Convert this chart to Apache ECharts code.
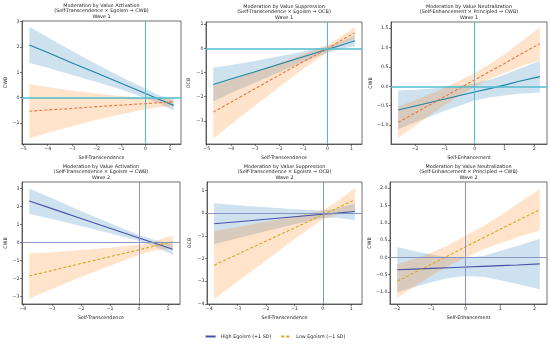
<!DOCTYPE html>
<html><head><meta charset="utf-8">
<script src="https://cdn.jsdelivr.net/npm/echarts@6/dist/echarts.min.js"></script>
<style>html,body{margin:0;padding:0;background:#fff}#c{width:550px;height:344px}</style>
</head><body><div id="c"></div>
<script>
// ---------- text ----------
const seriesNames = ['High Egoism (+1 SD)', 'Low Egoism (\u22121 SD)'];
const panelTitles = ['Moderation by Value Activation', 'Moderation by Value Suppression', 'Moderation by Value Neutralization',
                     'Moderation by Value Activation', 'Moderation by Value Suppression', 'Moderation by Value Neutralization'];
const panelSubtitles = ['(Self-Transcendence \u00d7 Egoism \u2192 CWB)', '(Self-Transcendence \u00d7 Egoism \u2192 OCB)', '(Self-Enhancement \u00d7 Principled \u2192 CWB)',
                        '(Self-Transcendence \u00d7 Egoism \u2192 CWB)', '(Self-Transcendence \u00d7 Egoism \u2192 OCB)', '(Self-Enhancement \u00d7 Principled \u2192 CWB)'];
const waveLabels = ['Wave 1', 'Wave 1', 'Wave 1', 'Wave 2', 'Wave 2', 'Wave 2'];
const xNames = ['Self-Transcendence', 'Self-Transcendence', 'Self-Enhancement', 'Self-Transcendence', 'Self-Transcendence', 'Self-Enhancement'];
const yNames = ['CWB', 'OCB', 'CWB', 'CWB', 'OCB', 'CWB'];

// ---------- tick labels ----------
const xTicks = [[-5,-4,-3,-2,-1,0,1], [-5,-4,-3,-2,-1,0,1], [-2,-1,0,1,2],
                [-4,-3,-2,-1,0,1], [-4,-3,-2,-1,0,1], [-2,-1,0,1,2]];
const yTicks = [[-1,0,1,2,3], [-3,-2,-1,0,1], [-1.5,-1.0,-0.5,0.0,0.5,1.0,1.5],
                [-3,-2,-1,0,1,2,3], [-4,-3,-2,-1,0,1], [-1.0,-0.5,0.0,0.5,1.0,1.5,2.0]];
const yDecimals = [0, 0, 1, 0, 0, 1];

// ---------- Wave 1, Activation ----------
const w1ActX         = [-4.75, -4, -3, -2, -1, 0, 0.5, 1.15];
const w1ActHighMean  = [2.08, 1.78, 1.37, 0.97, 0.57, 0.165, -0.04, -0.30];
const w1ActHighLower = [1.37, 1.18, 0.90, 0.62, 0.32, -0.02, -0.20, -0.50];
const w1ActHighUpper = [2.79, 2.38, 1.84, 1.32, 0.82, 0.35, 0.12, -0.10];
const w1ActLowMean   = [-0.53, -0.48, -0.42, -0.35, -0.29, -0.23, -0.20, -0.16];
const w1ActLowLower  = [-1.60, -1.38, -1.12, -0.87, -0.65, -0.45, -0.37, -0.33];
const w1ActLowUpper  = [0.54, 0.42, 0.28, 0.17, 0.07, -0.01, -0.03, 0.01];

// ---------- Wave 1, Suppression ----------
const w1SupX         = [-4.73, -4, -3, -2, -1, 0, 0.5, 1.13];
const w1SupHighMean  = [-1.50, -1.27, -0.97, -0.66, -0.35, -0.04, 0.11, 0.31];
const w1SupHighLower = [-2.20, -1.85, -1.42, -0.99, -0.57, -0.18, -0.03, 0.09];
const w1SupHighUpper = [-0.80, -0.69, -0.52, -0.33, -0.13, 0.10, 0.25, 0.53];
const w1SupLowMean   = [-2.64, -2.23, -1.67, -1.11, -0.55, -0.02, 0.29, 0.64];
const w1SupLowLower  = [-3.74, -3.15, -2.37, -1.61, -0.85, -0.17, 0.13, 0.40];
const w1SupLowUpper  = [-1.54, -1.31, -0.97, -0.61, -0.25, 0.14, 0.45, 0.88];

// ---------- Wave 1, Neutralization ----------
const w1NeuX         = [-2.57, -2, -1, 0, 0.5, 1, 1.5, 2.19];
const w1NeuHighMean  = [-0.61, -0.51, -0.33, -0.146, -0.06, 0.03, 0.13, 0.25];
const w1NeuHighLower = [-1.11, -0.93, -0.63, -0.37, -0.29, -0.24, -0.19, -0.16];
const w1NeuHighUpper = [-0.11, -0.09, -0.03, 0.07, 0.17, 0.30, 0.45, 0.66];
const w1NeuLowMean   = [-0.93, -0.69, -0.26, 0.165, 0.38, 0.59, 0.81, 1.10];
const w1NeuLowLower  = [-1.33, -1.02, -0.48, -0.01, 0.19, 0.35, 0.50, 0.68];
const w1NeuLowUpper  = [-0.53, -0.36, -0.04, 0.34, 0.57, 0.83, 1.12, 1.52];

// ---------- Wave 2, Activation ----------
const w2ActX         = [-3.78, -3, -2, -1, 0, 0.5, 1.16];
const w2ActHighMean  = [2.31, 1.89, 1.34, 0.80, 0.26, -0.01, -0.37];
const w2ActHighLower = [1.61, 1.32, 0.92, 0.52, 0.09, -0.18, -0.67];
const w2ActHighUpper = [3.01, 2.46, 1.76, 1.08, 0.43, 0.16, -0.07];
const w2ActLowMean   = [-1.85, -1.55, -1.16, -0.78, -0.40, -0.20, 0.05];
const w2ActLowLower  = [-3.10, -2.57, -1.91, -1.28, -0.68, -0.45, -0.31];
const w2ActLowUpper  = [-0.60, -0.53, -0.41, -0.28, -0.12, 0.05, 0.41];

// ---------- Wave 2, Suppression ----------
const w2SupX         = [-3.83, -3, -2, -1, 0, 0.5, 1.13];
const w2SupHighMean  = [-0.47, -0.38, -0.27, -0.16, -0.05, 0.00, 0.07];
const w2SupHighLower = [-1.37, -1.11, -0.80, -0.49, -0.22, -0.20, -0.30];
const w2SupHighUpper = [0.43, 0.35, 0.26, 0.17, 0.12, 0.20, 0.44];
const w2SupLowMean   = [-2.29, -1.81, -1.23, -0.65, -0.07, 0.22, 0.59];
const w2SupLowLower  = [-3.79, -3.01, -2.08, -1.15, -0.27, -0.06, 0.07];
const w2SupLowUpper  = [-0.79, -0.61, -0.38, -0.15, 0.13, 0.50, 1.11];

// ---------- Wave 2, Neutralization ----------
const w2NeuX         = [-1.99, -1.5, -1, -0.5, 0, 0.5, 1, 1.5, 2.15];
const w2NeuHighMean  = [-0.36, -0.34, -0.32, -0.30, -0.28, -0.26, -0.24, -0.22, -0.19];
const w2NeuHighLower = [-1.01, -0.86, -0.72, -0.60, -0.54, -0.56, -0.66, -0.77, -0.92];
const w2NeuHighUpper = [0.29, 0.18, 0.08, 0.00, -0.02, 0.04, 0.18, 0.33, 0.54];
const w2NeuLowMean   = [-0.69, -0.45, -0.20, 0.05, 0.31, 0.56, 0.81, 1.06, 1.38];
const w2NeuLowLower  = [-1.17, -0.85, -0.53, -0.25, -0.01, 0.23, 0.41, 0.58, 0.78];
const w2NeuLowUpper  = [-0.21, -0.05, 0.13, 0.35, 0.63, 0.89, 1.21, 1.54, 1.98];

// ---------- assemble ----------
const panels = [
  {x: w1ActX, hm: w1ActHighMean, hl: w1ActHighLower, hu: w1ActHighUpper, lm: w1ActLowMean, ll: w1ActLowLower, lu: w1ActLowUpper},
  {x: w1SupX, hm: w1SupHighMean, hl: w1SupHighLower, hu: w1SupHighUpper, lm: w1SupLowMean, ll: w1SupLowLower, lu: w1SupLowUpper},
  {x: w1NeuX, hm: w1NeuHighMean, hl: w1NeuHighLower, hu: w1NeuHighUpper, lm: w1NeuLowMean, ll: w1NeuLowLower, lu: w1NeuLowUpper},
  {x: w2ActX, hm: w2ActHighMean, hl: w2ActHighLower, hu: w2ActHighUpper, lm: w2ActLowMean, ll: w2ActLowLower, lu: w2ActLowUpper},
  {x: w2SupX, hm: w2SupHighMean, hl: w2SupHighLower, hu: w2SupHighUpper, lm: w2SupLowMean, ll: w2SupLowLower, lu: w2SupLowUpper},
  {x: w2NeuX, hm: w2NeuHighMean, hl: w2NeuHighLower, hu: w2NeuHighUpper, lm: w2NeuLowMean, ll: w2NeuLowLower, lu: w2NeuLowUpper}
];

// layout / style
const gridBoxes = [[22,21,159,123],[206,22,156,122],[391,22,156,122],[22,182,158,122],[207,182,155,122],[390,182,157,122]];
const xRanges = [[-5.05,1.45],[-5.03,1.43],[-2.81,2.43],[-4.03,1.41],[-4.08,1.38],[-2.2,2.36]];
const yRanges = [[-1.82,3.02],[-3.96,1.09],[-1.49,1.66],[-3.41,3.37],[-4.0,1.37],[-1.35,2.18]];
const yNameGaps = [12, 15, 16, 13, 15, 14];
const FONT = 'DejaVu Sans';
const waveStyle = [
  {hi: '#1f82a3', lo: '#f0743e', ref: '#4fbccc', hw: 1.6, vw: 1.0},
  {hi: '#4452a8', lo: '#d6a623', ref: '#7e8cc0', hw: 0.9, vw: 0.9}
];
const bandBlue = 'rgba(31,119,180,0.22)';
const bandOrange = 'rgba(255,127,14,0.22)';

function fmt(v, d) {
  if (Math.abs(v) < 1e-9) v = 0;
  const s = Math.abs(v).toFixed(d);
  return (v < 0 ? '\u2212' : '') + s;
}

function bandSeries(gi, xs, lo, hi, color) {
  return {
    type: 'custom', xAxisIndex: gi, yAxisIndex: gi, z: 1, silent: true, clip: true,
    data: xs.map((x, i) => [x, lo[i], hi[i]]),
    encode: {x: 0, y: [1, 2]},
    renderItem: function (params, api) {
      if (params.dataIndex !== 0) return null;
      const pts = [];
      for (let i = 0; i < xs.length; i++) pts.push(api.coord([xs[i], hi[i]]));
      for (let i = xs.length - 1; i >= 0; i--) pts.push(api.coord([xs[i], lo[i]]));
      return {type: 'polygon', shape: {points: pts}, style: {fill: color}};
    }
  };
}

const grids = [], xAxes = [], yAxes = [], titles = [], lineSeries = [], otherSeries = [];
panels.forEach((p, gi) => {
  const b = gridBoxes[gi];
  const ws = waveStyle[gi < 3 ? 0 : 1];
  grids.push({left: b[0], top: b[1], width: b[2], height: b[3], show: true, borderColor: '#333', borderWidth: 0.7, backgroundColor: 'transparent'});
  titles.push({
    text: panelTitles[gi] + '\n' + panelSubtitles[gi] + '\n' + waveLabels[gi],
    left: b[0] + b[2] / 2, top: b[1] - 18.5, textAlign: 'center', padding: 0,
    textStyle: {fontFamily: FONT, fontSize: 4.9, fontWeight: 'normal', color: '#222', lineHeight: 5.6}
  });
  xAxes.push({
    type: 'value', gridIndex: gi, min: xRanges[gi][0], max: xRanges[gi][1],
    name: xNames[gi], nameLocation: 'middle', nameGap: 11,
    nameTextStyle: {fontFamily: FONT, fontSize: 4.8, color: '#222'},
    axisLine: {show: true, onZero: false, lineStyle: {color: '#333', width: 0.7}},
    axisTick: {show: true, length: 2, lineStyle: {color: '#333', width: 0.6}, customValues: xTicks[gi]},
    axisLabel: {fontFamily: FONT, fontSize: 4.7, color: '#333', margin: 2.5, customValues: xTicks[gi], formatter: v => fmt(v, 0)},
    splitLine: {show: false}
  });
  yAxes.push({
    type: 'value', gridIndex: gi, min: yRanges[gi][0], max: yRanges[gi][1],
    name: yNames[gi], nameLocation: 'middle', nameGap: yNameGaps[gi],
    nameTextStyle: {fontFamily: FONT, fontSize: 4.8, color: '#222'},
    axisLine: {show: true, onZero: false, lineStyle: {color: '#333', width: 0.7}},
    axisTick: {show: true, length: 2, lineStyle: {color: '#333', width: 0.6}, customValues: yTicks[gi]},
    axisLabel: {fontFamily: FONT, fontSize: 4.7, color: '#333', margin: 2.5, customValues: yTicks[gi], formatter: v => fmt(v, yDecimals[gi])},
    splitLine: {show: false}
  });
  otherSeries.push(bandSeries(gi, p.x, p.hl, p.hu, bandBlue));
  otherSeries.push(bandSeries(gi, p.x, p.ll, p.lu, bandOrange));
  const hiS = {
    type: 'line', name: seriesNames[0], xAxisIndex: gi, yAxisIndex: gi, z: 3, symbol: 'none',
    data: p.x.map((x, i) => [x, p.hm[i]]),
    lineStyle: {color: ws.hi, width: 1.1}, itemStyle: {color: ws.hi},
    markLine: {
      silent: true, symbol: 'none', label: {show: false}, animation: false,
      lineStyle: {color: ws.ref, width: 0.9, type: 'solid'},
      data: [
        {xAxis: 0, lineStyle: {color: ws.ref, width: ws.vw, type: 'solid'}},
        {yAxis: 0, lineStyle: {color: ws.ref, width: ws.hw, type: 'solid'}}
      ]
    }
  };
  const loS = {
    type: 'line', name: seriesNames[1], xAxisIndex: gi, yAxisIndex: gi, z: 3, symbol: 'none',
    data: p.x.map((x, i) => [x, p.lm[i]]),
    lineStyle: {color: ws.lo, width: 1.1, type: [3, 2]}, itemStyle: {color: ws.lo}
  };
  lineSeries.push({gi, hiS, loS});
});

// wave-2 lines first so that the legend takes their style
const ordered = [];
lineSeries.slice(3).forEach(s => { ordered.push(s.hiS, s.loS); });
lineSeries.slice(0, 3).forEach(s => { ordered.push(s.hiS, s.loS); });

const option = {
  animation: false,
  backgroundColor: '#fff',
  title: titles,
  grid: grids,
  xAxis: xAxes,
  yAxis: yAxes,
  legend: {
    data: seriesNames, left: 'center', top: 334, itemWidth: 10, itemHeight: 4, itemGap: 9, padding: 0,
    itemStyle: {opacity: 0},
    textStyle: {fontFamily: FONT, fontSize: 4.8, color: '#222'}
  },
  series: ordered.concat(otherSeries)
};
const chart = echarts.init(document.getElementById('c'), null, {renderer: 'canvas'});
chart.setOption(option);
</script></body></html>
